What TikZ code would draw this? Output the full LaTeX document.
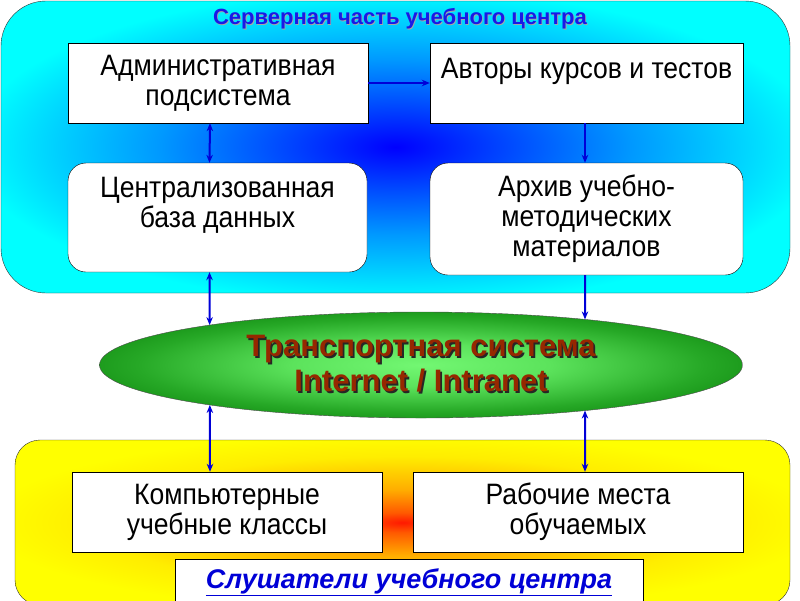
\documentclass[tikz,border=0pt]{standalone}
\usepackage{fontspec}
\setmainfont{Liberation Sans}
\newfontfamily\cardfamily{Liberation Sans}[FakeStretch=0.9]
\usetikzlibrary{positioning,shapes.geometric,shadings,intersections,arrows.meta}

\definecolor{linkblue}{RGB}{0,0,215}
\definecolor{titleblue}{RGB}{25,25,230}
\definecolor{rustred}{RGB}{150,40,0}

\pgfdeclareradialshading{servershade}{\pgfpoint{0bp}{0bp}}{rgb(0bp)=(0,0,1); rgb(5bp)=(0,0.2,1); rgb(15bp)=(0,0.6,1); rgb(27bp)=(0,1,1); rgb(50bp)=(0,1,1)}
\pgfdeclareradialshading{transshade}{\pgfpoint{0bp}{0bp}}{rgb(0bp)=(0.45,0.97,0.45); rgb(10bp)=(0.36,0.89,0.36); rgb(22bp)=(0.15,0.66,0.15); rgb(35bp)=(0,0.45,0); rgb(50bp)=(0,0.42,0)}
\pgfdeclareradialshading{usershade}{\pgfpoint{0bp}{0bp}}{rgb(0bp)=(1,0.1,0); rgb(3bp)=(1,0.35,0); rgb(10bp)=(1,0.68,0); rgb(20bp)=(1,0.93,0); rgb(27bp)=(1,1,0); rgb(50bp)=(1,1,0)}

\newcommand\boxfont{\cardfamily\fontsize{29.5}{30}\selectfont}
\newcommand\shadowed[3]{\leavevmode\rlap{\kern#1\raisebox{-#1}{\color{#2}#3}}#3}

\begin{document}
\begin{tikzpicture}[x=1pt,y=-1pt,>={Stealth[length=8pt,width=6.5pt]},
	card/.style={draw=black, fill=white, thin, align=center, font=\boxfont, inner sep=2pt},
	roundcard/.style={card, rounded corners=18pt},
	link/.style={draw=linkblue, line width=2pt}]
	\useasboundingbox (0,0) rectangle (800,600);

	% server part
	\shadedraw[shading=servershade, draw=black!80, thin, rounded corners=45pt] (1,1) rectangle (790,293);
	\node[font=\fontsize{22}{24}\bfseries, text=titleblue] (srvtitle) at (400,19)
		{\shadowed{0.8pt}{black!35}{Серверная часть учебного центра}};

	\node[card, minimum width=300pt, minimum height=80pt] (admin) at (218,83)
		{Административная\\подсистема};
	\node[card, minimum width=313pt, minimum height=80pt] (authors) at (586.5,83)
		{Авторы курсов и тестов\\ ~};
	\node[roundcard, minimum width=299pt, minimum height=109pt] (central) at (217.5,217.5)
		{Централизованная\\база данных\\ ~};
	\node[roundcard, minimum width=313pt, minimum height=112pt] (archive) at (586.5,219)
		{Архив учебно-\\методических\\материалов};

	% users part
	\shadedraw[shading=usershade, draw=black!80, thin, rounded corners=25pt] (15,440) rectangle (790,605);
	\node[card, minimum width=310pt, minimum height=80pt] (comp) at (227,512)
		{Компьютерные\\учебные классы};
	\node[card, minimum width=330pt, minimum height=80pt] (work) at (578,512)
		{Рабочие места\\обучаемых};
	\node[card, minimum width=468pt, minimum height=46pt, inner sep=0pt,
		font=\fontsize{27}{30}\bfseries\itshape, text=linkblue] (listeners) at (409,582)
		{\underline{Слушатели учебного центра}};

	% transport
	\node[ellipse, shade, shading=transshade, draw=black!70, thin, minimum width=643pt,
		minimum height=106pt, inner sep=0pt, align=center, name path=transrim,
		font=\fontsize{31}{35}\bfseries, text=rustred] (trans) at (421,365)
		{\shadowed{1.8pt}{black!85}{Транспортная система}\\\shadowed{1.8pt}{black!85}{Internet / Intranet}};

	% links
	\path[name path=leftrun] ([xshift=-8pt]central.south) -- ([xshift=-17pt]comp.north);
	\path[name path=rightrun] ([xshift=-1.5pt]archive.south) -- ([xshift=7pt]work.north);
	\path[name intersections={of=leftrun and transrim, name=lt, sort by=leftrun}];
	\path[name intersections={of=rightrun and transrim, name=rt, sort by=rightrun}];

	\draw[link, <->] ([xshift=-8pt]admin.south) -- ([xshift=-8pt]central.north);
	\draw[link, ->] (admin.east) -- (authors.west);
	\draw[link, ->] ([xshift=-1.5pt]authors.south) -- ([xshift=-1.5pt]archive.north);
	\draw[link, <->] ([xshift=-8pt]central.south) -- (lt-1);
	\draw[link, ->] ([xshift=-1.5pt]archive.south) -- (rt-1);
	\draw[link, <->] (lt-2) -- ([xshift=-17pt]comp.north);
	\draw[link, <->] (rt-2) -- ([xshift=7pt]work.north);
\end{tikzpicture}
\end{document}
